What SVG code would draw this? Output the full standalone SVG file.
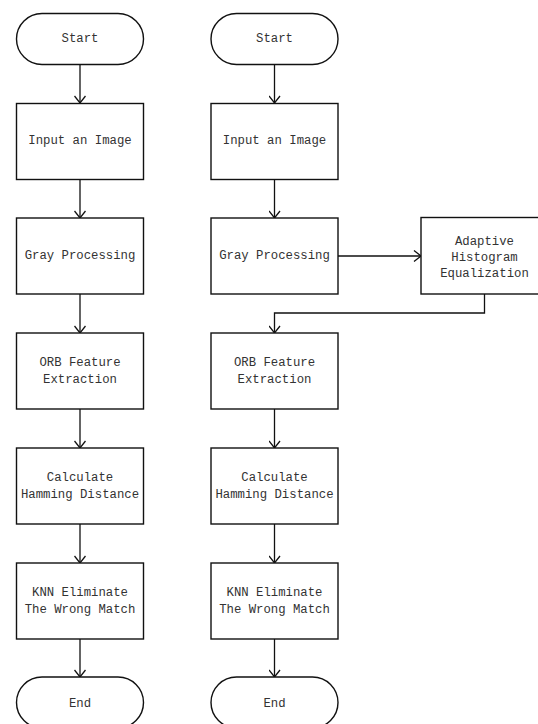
<svg xmlns="http://www.w3.org/2000/svg" width="538" height="724" viewBox="0 0 538 724">
<defs>
<marker id="arr" markerUnits="userSpaceOnUse" viewBox="-8 -6 10 12" refX="0" refY="0" markerWidth="10" markerHeight="12" orient="auto">
<path d="M-7,-5.5 L0,0 L-7,5.5" fill="none" stroke="#111" stroke-width="1.3"/>
</marker>
</defs>
<style>
.b{fill:#fff;stroke:#111;stroke-width:1.4}
.t{font-family:"Liberation Mono","DejaVu Sans Mono",monospace;font-size:12.3px;fill:#333;text-anchor:middle;dominant-baseline:central}
.c{fill:none;stroke:#111;stroke-width:1.3;marker-end:url(#arr)}
</style>
<rect width="538" height="724" fill="#fff"/>
<g id="connectors">
<line class="c" x1="80" y1="64" x2="80" y2="103"/>
<line class="c" x1="80" y1="180" x2="80" y2="218"/>
<line class="c" x1="80" y1="294" x2="80" y2="333"/>
<line class="c" x1="80" y1="409" x2="80" y2="448"/>
<line class="c" x1="80" y1="524" x2="80" y2="563"/>
<line class="c" x1="80" y1="639" x2="80" y2="677"/>
<line class="c" x1="274.5" y1="64" x2="274.5" y2="103"/>
<line class="c" x1="274.5" y1="180" x2="274.5" y2="218"/>
<line class="c" x1="338" y1="256" x2="421" y2="256"/>
<polyline class="c" points="484.5,294 484.5,313 274.5,313 274.5,333"/>
<line class="c" x1="274.5" y1="409" x2="274.5" y2="448"/>
<line class="c" x1="274.5" y1="524" x2="274.5" y2="563"/>
<line class="c" x1="274.5" y1="639" x2="274.5" y2="677"/>
</g>
<g id="L-start"><rect class="b" x="16.5" y="13.5" width="127" height="51" rx="25.5"/><text class="t" x="80" y="39">Start</text></g>
<g id="L-input"><rect class="b" x="16.5" y="103.5" width="127" height="76"/><text class="t" x="80" y="141">Input an Image</text></g>
<g id="L-gray"><rect class="b" x="16.5" y="218" width="127" height="76"/><text class="t" x="80" y="256">Gray Processing</text></g>
<g id="L-orb"><rect class="b" x="16.5" y="333" width="127" height="76"/><text class="t" x="80" y="362.5">ORB Feature</text><text class="t" x="80" y="379.5">Extraction</text></g>
<g id="L-calc"><rect class="b" x="16.5" y="448" width="127" height="76"/><text class="t" x="80" y="478">Calculate</text><text class="t" x="80" y="495">Hamming Distance</text></g>
<g id="L-knn"><rect class="b" x="16.5" y="563" width="127" height="76"/><text class="t" x="80" y="593">KNN Eliminate</text><text class="t" x="80" y="610">The Wrong Match</text></g>
<g id="L-end"><rect class="b" x="16.5" y="677" width="127" height="51" rx="25.5"/><text class="t" x="80" y="704">End</text></g>
<g id="R-start"><rect class="b" x="211" y="13.5" width="127" height="51" rx="25.5"/><text class="t" x="274.5" y="39">Start</text></g>
<g id="R-input"><rect class="b" x="211" y="103.5" width="127" height="76"/><text class="t" x="274.5" y="141">Input an Image</text></g>
<g id="R-gray"><rect class="b" x="211" y="218" width="127" height="76"/><text class="t" x="274.5" y="256">Gray Processing</text></g>
<g id="R-ahe"><rect class="b" x="421" y="217.5" width="127" height="76.5"/><text class="t" x="484.5" y="241.5">Adaptive</text><text class="t" x="484.5" y="257.5">Histogram</text><text class="t" x="484.5" y="273.5">Equalization</text></g>
<g id="R-orb"><rect class="b" x="211" y="333" width="127" height="76"/><text class="t" x="274.5" y="362.5">ORB Feature</text><text class="t" x="274.5" y="379.5">Extraction</text></g>
<g id="R-calc"><rect class="b" x="211" y="448" width="127" height="76"/><text class="t" x="274.5" y="478">Calculate</text><text class="t" x="274.5" y="495">Hamming Distance</text></g>
<g id="R-knn"><rect class="b" x="211" y="563" width="127" height="76"/><text class="t" x="274.5" y="593">KNN Eliminate</text><text class="t" x="274.5" y="610">The Wrong Match</text></g>
<g id="R-end"><rect class="b" x="211" y="677" width="127" height="51" rx="25.5"/><text class="t" x="274.5" y="704">End</text></g>
</svg>
